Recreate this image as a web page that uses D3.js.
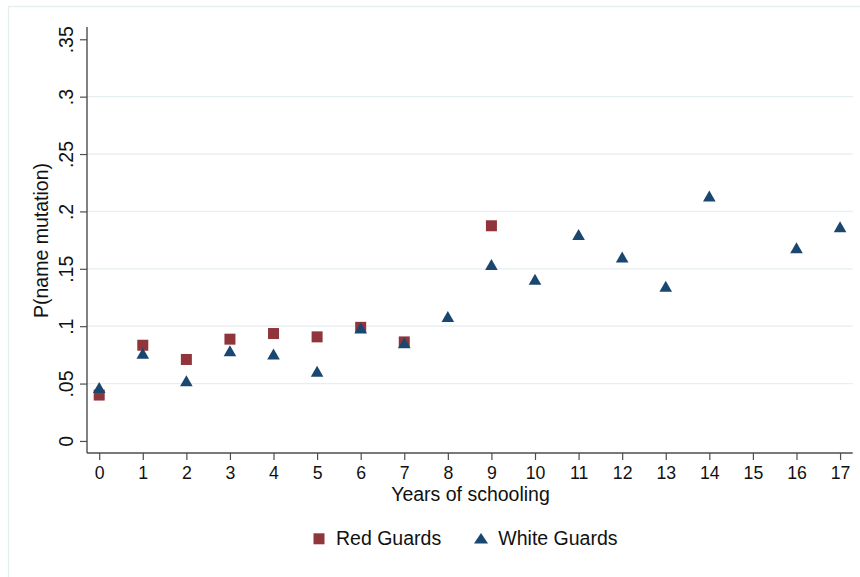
<!DOCTYPE html>
<html>
<head>
<meta charset="utf-8">
<script src="https://cdn.jsdelivr.net/npm/d3@7"></script>
<style>
  html, body { margin: 0; padding: 0; background: #fff; }
  svg { display: block; font-family: "Liberation Sans", Arial, Helvetica, sans-serif; }
  svg text { font-family: "Liberation Sans", Arial, Helvetica, sans-serif; }
</style>
</head>
<body>
<svg id="chart" width="860" height="577"></svg>
<script>
// ---- data ----
const years = [0, 1, 2, 3, 4, 5, 6, 7, 8, 9, 10, 11, 12, 13, 14, 15, 16, 17];
const redYears = [0, 1, 2, 3, 4, 5, 6, 7, 9];
const redValues = [0.040, 0.0834, 0.071, 0.0887, 0.0936, 0.0907, 0.099, 0.0863, 0.1875];
const whiteYears = [0, 1, 2, 3, 4, 5, 6, 7, 8, 9, 10, 11, 12, 13, 14, 16, 17];
const whiteValues = [0.0465, 0.0765, 0.0525, 0.0787, 0.0757, 0.0608, 0.0985, 0.0855, 0.1084,
                     0.1538, 0.141, 0.180, 0.1603, 0.1347, 0.2134, 0.1683, 0.1866];
const yTicks = [0, 0.05, 0.1, 0.15, 0.2, 0.25, 0.3, 0.35];
const yTickLabels = ["0", ".05", ".1", ".15", ".2", ".25", ".3", ".35"];
const gridTicks = [0.05, 0.1, 0.15, 0.2, 0.25, 0.3];
const seriesNames = ["Red Guards", "White Guards"];
const xTitle = "Years of schooling";
const yTitle = "P(name mutation)";

// ---- styles ----
const RED = "#90353b", BLUE = "#1a476f", GRID = "#e6eef1", AXIS = "#4d4d4d", FRAME = "#e6eef1";
const FONT = "'Liberation Sans', Arial, Helvetica, sans-serif";

const svg = d3.select("#chart");

// outer frame
svg.append("rect").attr("x", 8.5).attr("y", 6.5).attr("width", 880).attr("height", 620)
  .attr("fill", "#fff").attr("stroke", FRAME).attr("stroke-width", 1.5);

const x = d3.scaleLinear().domain([-0.28, 17.29]).range([87, 852.7]);
const y = d3.scaleLinear().domain([-0.0105, 0.3607]).range([453, 27]);

// grid
svg.append("g").selectAll("line").data(gridTicks).join("line")
  .attr("x1", 87).attr("x2", 852.7)
  .attr("y1", d => y(d)).attr("y2", d => y(d))
  .attr("stroke", GRID).attr("stroke-width", 1.3);

// y axis
const yAxis = d3.axisLeft(y).tickValues(yTicks).tickSize(7)
  .tickFormat((d, i) => yTickLabels[i]);
const gy = svg.append("g").attr("transform", "translate(87,0)").call(yAxis)
  .attr("font-family", FONT).attr("font-size", null);
gy.select(".domain").attr("stroke", AXIS).attr("stroke-width", 1.4).attr("d", `M0,${y(0.3607)}V${y(-0.0105)}`);
gy.selectAll(".tick line").attr("stroke", AXIS).attr("stroke-width", 1.2);
gy.selectAll(".tick text")
  .attr("x", null).attr("dy", null)
  .attr("transform", "translate(-14,0) rotate(-90)")
  .attr("text-anchor", "middle")
  .attr("fill", "#111")
  .style("font-size", "19.5px");

// x axis
const xAxis = d3.axisBottom(x).tickValues(years).tickSize(7).tickFormat(d3.format("d"));
const gx = svg.append("g").attr("transform", "translate(0,453)").call(xAxis)
  .attr("font-family", FONT).attr("font-size", null);
gx.select(".domain").attr("stroke", AXIS).attr("stroke-width", 1.4).attr("d", `M87,0H852.7`);
gx.selectAll(".tick line").attr("stroke", AXIS).attr("stroke-width", 1.2);
gx.selectAll(".tick text").attr("y", 25.5).attr("dy", null)
  .attr("fill", "#111").style("font-size", "17.7px");

// axis titles
svg.append("text").attr("x", 470.5).attr("y", 501).attr("text-anchor", "middle")
  .style("font-size", "19.5px").attr("fill", "#111").text(xTitle);
svg.append("text").attr("transform", "translate(48,240.5) rotate(-90)").attr("text-anchor", "middle")
  .style("font-size", "19.5px").attr("fill", "#111").text(yTitle);

// markers
const SQ = 11, TW = 12.6, TH = 11;
const triPath = `M0,${-TH/2}L${TW/2},${TH/2}L${-TW/2},${TH/2}Z`;

const redData = redYears.map((d, i) => ({ x: d, v: redValues[i] }));
const whiteData = whiteYears.map((d, i) => ({ x: d, v: whiteValues[i] }));

svg.append("g").selectAll("rect").data(redData).join("rect")
  .attr("x", d => x(d.x) - SQ / 2).attr("y", d => y(d.v) - SQ / 2)
  .attr("width", SQ).attr("height", SQ).attr("fill", RED);

svg.append("g").selectAll("path").data(whiteData).join("path")
  .attr("transform", d => `translate(${x(d.x)},${y(d.v)})`)
  .attr("d", triPath).attr("fill", BLUE);

// legend
const lg = svg.append("g");
lg.append("rect").attr("x", 313.5).attr("y", 533.3).attr("width", 11).attr("height", 11).attr("fill", RED);
lg.append("text").attr("x", 336).attr("y", 544.5).style("font-size", "19.5px").attr("fill", "#111").text(seriesNames[0]);
lg.append("path").attr("transform", "translate(481,538.5)").attr("d", `M0,-5.5L7,5L-7,5Z`).attr("fill", BLUE);
lg.append("text").attr("x", 498.3).attr("y", 544.5).style("font-size", "19.5px").attr("fill", "#111").text(seriesNames[1]);
</script>
</body>
</html>
